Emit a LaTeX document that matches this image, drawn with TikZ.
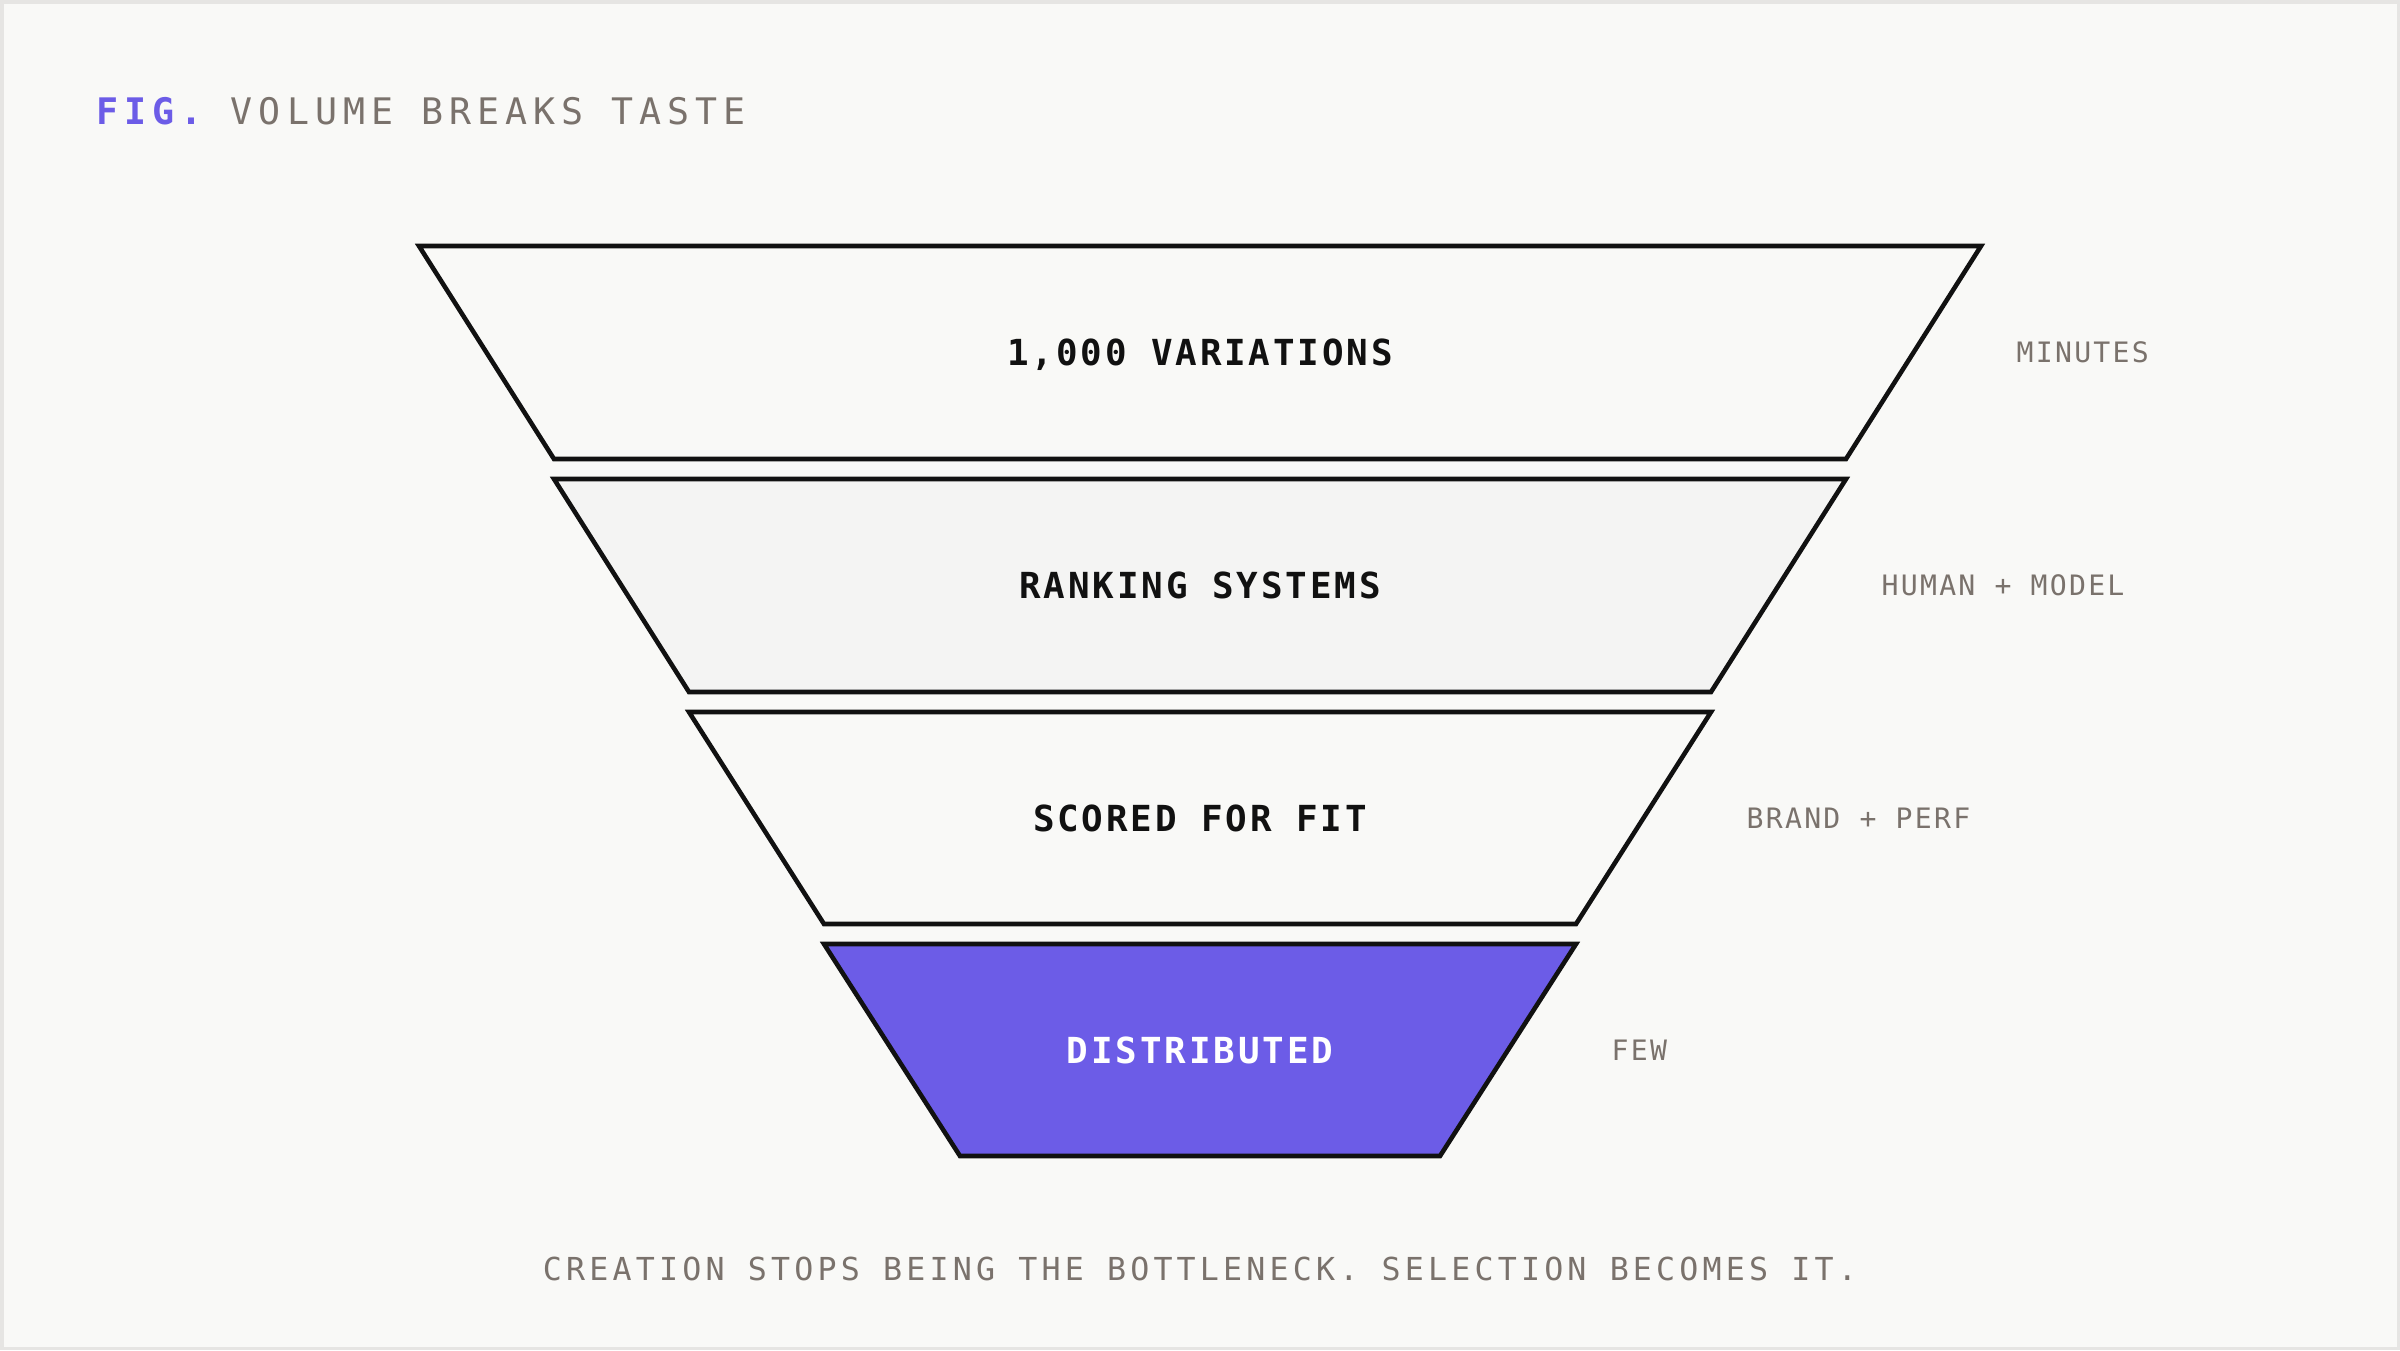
\documentclass[tikz,border=0pt]{standalone}
\usepackage{fontspec}
\usepackage{tikz}
\usetikzlibrary{positioning}
\newfontfamily\titlefont[LetterSpace=16.5]{DejaVu Sans Mono}
\newfontfamily\bandfont[LetterSpace=8]{DejaVu Sans Mono}
\newfontfamily\notefont[LetterSpace=8]{DejaVu Sans Mono}
\newfontfamily\footfont[LetterSpace=13.2]{DejaVu Sans Mono}
\definecolor{funnelink}{HTML}{111111}
\definecolor{funnelviolet}{HTML}{6C5CE7}
\definecolor{captiongray}{HTML}{7A726C}
\definecolor{paperbg}{HTML}{F9F9F7}
\definecolor{paperedge}{HTML}{E6E5E3}
\definecolor{bandshade}{HTML}{F4F4F3}
\tikzset{
  band/.style     ={draw=funnelink, line width=1.3pt, line join=miter, fill=paperbg},
  bandgrey/.style ={band, fill=bandshade},
  bandhot/.style  ={band, fill=funnelviolet},
  bandlabel/.style={inner sep=0pt, text height=7.4pt, text depth=0pt, text=funnelink,
                    font=\bandfont\bfseries\fontsize{10.2pt}{12pt}\selectfont},
  bandlabelhot/.style={bandlabel, text=white},
  sidenote/.style ={anchor=west, inner sep=0pt, text height=5.8pt, text depth=0pt, text=captiongray,
                    font=\notefont\fontsize{8pt}{10pt}\selectfont},
  figtitle/.style ={anchor=base west, inner sep=0pt, text=captiongray,
                    font=\titlefont\fontsize{10.4pt}{12pt}\selectfont},
  figfoot/.style  ={anchor=base, inner sep=0pt, text=captiongray,
                    font=\footfont\fontsize{9pt}{11pt}\selectfont},
}
\begin{document}
\begin{tikzpicture}[x=0.01cm, y=-0.01cm]
    \fill[paperedge] (0,0) rectangle (2400,1350);
    \fill[paperbg] (3.5,3.5) rectangle (2396.5,1346.5);
    \useasboundingbox (0,0) rectangle (2400,1350);
    \node[figtitle] (title) at (96,124) {\textcolor{funnelviolet}{\bfseries FIG.} VOLUME BREAKS TASTE};
    \draw[band]     (419,246) -- (1981,246) -- (1846,459) -- (554,459) -- cycle;
    \draw[bandgrey] (554,479) -- (1846,479) -- (1711,692) -- (689,692) -- cycle;
    \draw[band]     (689,712) -- (1711,712) -- (1576,924) -- (824,924) -- cycle;
    \draw[bandhot]  (824,944) -- (1576,944) -- (1440,1156) -- (960,1156) -- cycle;
    \node[bandlabel]    (variations) at (1200,352.5) {1,000 VARIATIONS};
    \node[bandlabel]    (ranking)    at (1200,585.5) {RANKING SYSTEMS};
    \node[bandlabel]    (scored)     at (1200,818)   {SCORED FOR FIT};
    \node[bandlabelhot] (distrib)    at (1200,1050)  {DISTRIBUTED};
    \node[sidenote] (minutes) at (2016,352.5) {MINUTES};
    \node[sidenote] (humanmodel) at (1881,585.5) {HUMAN + MODEL};
    \node[sidenote] (brandperf) at (1746,818) {BRAND + PERF};
    \node[sidenote] (few) at (1611,1050) {FEW};
    \node[figfoot] (footer) at (1200,1280) {CREATION STOPS BEING THE BOTTLENECK. SELECTION BECOMES IT.};
\end{tikzpicture}
\end{document}
